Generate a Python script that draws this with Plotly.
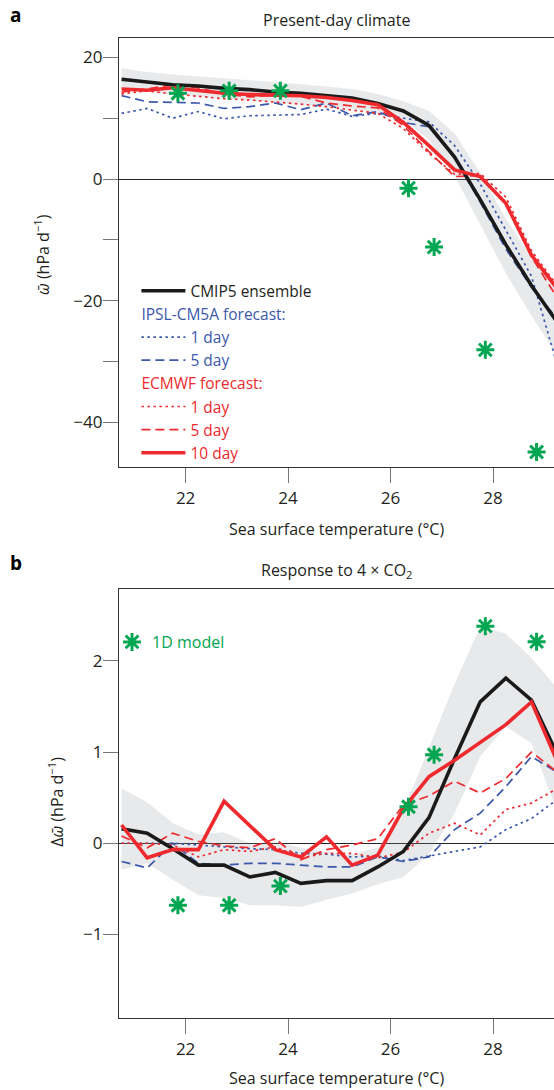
import plotly.graph_objects as go

# ---------------- data ----------------
sst = [20.75, 21.25, 21.75, 22.25, 22.75, 23.25, 23.75, 24.25, 24.75,
       25.25, 25.75, 26.25, 26.75, 27.25, 27.75, 28.25, 28.75, 29.25]

# Panel a: present-day climate (hPa/day)
cmip5_a = [16.4, 15.9, 15.5, 15.3, 14.9, 14.7, 14.3, 14.1, 13.7, 13.3, 12.4, 11.2, 8.8, 3.6, -3.4, -10.8, -17.5, -23.5]
band_hi_a = [18.2, 17.6, 17.2, 16.9, 16.5, 16.2, 15.9, 15.6, 15.2, 14.8, 14.0, 12.8, 11.2, 7.5, 1.0, -6.5, -13.0, -18.5]
band_lo_a = [14.8, 14.3, 13.9, 13.6, 13.2, 12.9, 12.6, 12.3, 12.0, 11.6, 10.8, 9.8, 6.5, 0.5, -7.5, -15.5, -22.5, -29.0]
ipsl1_a = [10.8, 11.6, 10.0, 11.1, 9.9, 10.4, 10.5, 10.6, 11.5, 10.3, 10.8, 10.0, 9.4, 5.5, -0.8, -8.5, -16.0, -30.5]
ipsl5_a = [13.7, 12.7, 12.6, 12.5, 11.6, 11.9, 12.5, 11.4, 12.5, 10.4, 11.1, 9.3, 8.6, 3.5, -3.8, -11.5, -17.8, -23.0]
ec1_a = [14.0, 14.5, 14.0, 13.6, 13.2, 13.0, 12.7, 12.3, 11.9, 11.4, 10.8, 8.3, 4.2, 0.8, 0.9, -3.0, -11.8, -17.5]
ec5_a = [14.3, 14.8, 15.5, 15.0, 14.0, 13.5, 13.8, 13.6, 12.5, 12.0, 11.7, 8.8, 4.5, 0.4, 0.6, -4.0, -12.8, -19.5]
ec10_a = [14.8, 14.6, 15.0, 14.6, 14.1, 13.9, 13.8, 13.7, 13.4, 12.9, 12.2, 9.3, 5.5, 1.5, 0.4, -4.0, -12.5, -18.0]

# Panel b: response to 4xCO2 (hPa/day)
cmip5_b = [0.16, 0.11, -0.06, -0.24, -0.24, -0.37, -0.32, -0.44, -0.41, -0.41, -0.26, -0.09, 0.28, 0.93, 1.55, 1.81, 1.57, 0.98]
band_hi_b = [0.60, 0.45, 0.22, 0.10, 0.12, 0.00, 0.02, -0.05, -0.10, -0.12, -0.05, 0.35, 1.05, 1.75, 2.37, 2.30, 2.03, 1.70]
band_lo_b = [-0.29, -0.22, -0.40, -0.57, -0.60, -0.68, -0.68, -0.70, -0.62, -0.55, -0.45, -0.37, -0.12, 0.33, 0.95, 1.28, 1.10, 0.35]
ipsl1_b = [0.0, 0.0, 0.0, -0.02, -0.04, -0.06, -0.07, -0.11, -0.12, -0.15, -0.14, -0.19, -0.14, -0.09, -0.04, 0.15, 0.27, 0.48]
ipsl5_b = [-0.20, -0.27, 0.0, -0.22, -0.24, -0.22, -0.22, -0.24, -0.26, -0.26, -0.15, -0.20, -0.15, 0.15, 0.33, 0.62, 0.95, 0.78]
ec1_b = [0.0, 0.0, -0.02, -0.15, -0.07, -0.09, -0.04, -0.16, -0.11, -0.11, -0.16, -0.10, 0.11, 0.22, 0.09, 0.37, 0.44, 0.60]
ec5_b = [0.08, -0.05, 0.11, 0.02, -0.03, -0.05, 0.05, -0.18, -0.07, -0.02, 0.05, 0.42, 0.52, 0.68, 0.55, 0.71, 1.00, 0.78]
ec10_b = [0.20, -0.16, -0.07, -0.07, 0.46, 0.19, -0.07, -0.15, 0.07, -0.24, -0.13, 0.38, 0.73, 0.91, 1.11, 1.30, 1.55, 0.90]

# 1D model
star_x = [21.85, 22.85, 23.85, 26.35, 26.85, 27.85, 28.85]
star_a = [14.1, 14.5, 14.5, -1.5, -11.2, -28.1, -44.9]
star_b = [-0.68, -0.68, -0.47, 0.40, 0.97, 2.38, 2.21]

xticks = [22, 24, 26, 28]
yticks_a = [-40, -20, 0, 20]
yticklabels_a = ["\u221240", "\u221220", "0", "20"]
yminor_a = [-30, -10, 10]
yticks_b = [-1, 0, 1, 2]
yticklabels_b = ["\u22121", "0", "1", "2"]

# ---------------- style ----------------
FONT = "Open Sans"
TXT = "#231f20"
BLACK = "#1a1a1a"
RED = "#ee2a2e"
BLUE = "#3b58ab"
GREEN = "#00a651"
BAND = "rgba(150,156,162,0.22)"
DOT = "2.5px,3.5px"
DASH = "9px,5px"
LEGSIZE = 15.5

fig = go.Figure()

def add_panel(xa, ya, band_hi, band_lo, cm, i1, i5, e1, e5, e10, stars, legend_on):
    fig.add_trace(go.Scatter(x=sst, y=band_hi, mode="lines", line=dict(width=0),
                             showlegend=False, hoverinfo="skip", xaxis=xa, yaxis=ya))
    fig.add_trace(go.Scatter(x=sst, y=band_lo, mode="lines", line=dict(width=0),
                             fill="tonexty", fillcolor=BAND,
                             showlegend=False, hoverinfo="skip", xaxis=xa, yaxis=ya))
    spec = [
        (i1, BLUE, 1.7, DOT, "<span style='color:%s'>1 day</span>" % BLUE, "ipsl", 2),
        (i5, BLUE, 1.7, DASH, "<span style='color:%s'>5 day</span>" % BLUE, "ipsl", 3),
        (e1, RED, 1.7, DOT, "<span style='color:%s'>1 day</span>" % RED, "ecmwf", 4),
        (e5, RED, 1.7, DASH, "<span style='color:%s'>5 day</span>" % RED, "ecmwf", 5),
        (cm, BLACK, 3.6, "solid", "CMIP5 ensemble", None, 1),
        (e10, RED, 3.6, "solid", "<span style='color:%s'>10 day</span>" % RED, "ecmwf", 6),
    ]
    for ys, col, w, dash, name, grp, rank in spec:
        kw = {}
        if legend_on and grp == "ipsl":
            kw = dict(legendgroup="ipsl", legendgrouptitle=dict(text="IPSL-CM5A forecast:",
                      font=dict(color=BLUE, size=LEGSIZE, family=FONT)))
        elif legend_on and grp == "ecmwf":
            kw = dict(legendgroup="ecmwf", legendgrouptitle=dict(text="ECMWF forecast:",
                      font=dict(color=RED, size=LEGSIZE, family=FONT)))
        fig.add_trace(go.Scatter(x=sst, y=ys, mode="lines", name=name,
                                 line=dict(color=col, width=w, dash=dash),
                                 showlegend=legend_on, legendrank=rank,
                                 xaxis=xa, yaxis=ya, legend="legend", **kw))
    fig.add_trace(go.Scatter(x=star_x, y=stars, mode="markers",
                             name="<span style='color:%s'>1D model</span>" % GREEN,
                             marker=dict(symbol="asterisk-open", size=15,
                                         line=dict(color=GREEN, width=3), color=GREEN),
                             showlegend=not legend_on, legend="legend2",
                             xaxis=xa, yaxis=ya))

add_panel("x", "y", band_hi_a, band_lo_a, cmip5_a, ipsl1_a, ipsl5_a, ec1_a, ec5_a, ec10_a, star_a, True)
add_panel("x2", "y2", band_hi_b, band_lo_b, cmip5_b, ipsl1_b, ipsl5_b, ec1_b, ec5_b, ec10_b, star_b, False)

axis_common = dict(showgrid=False, showline=True, linecolor="#333333", linewidth=1.3,
                   ticks="outside", ticklen=15, tickwidth=1.2, tickcolor="#777777",
                   tickfont=dict(size=17, color=TXT, family=FONT))

fig.update_layout(
    width=554, height=1090,
    margin=dict(l=119, r=0, t=38, b=72),
    paper_bgcolor="white", plot_bgcolor="white",
    font=dict(family=FONT, color=TXT, size=16),
    xaxis=dict(domain=[0, 1], anchor="y", range=[20.70, 29.19], tickvals=xticks,
               mirror=True, zeroline=False, **axis_common),
    yaxis=dict(domain=[0.5622, 1], anchor="x", range=[-47.37, 23.19],
               tickvals=yticks_a, ticktext=yticklabels_a, ticklabelstandoff=-3,
               minor=dict(tickvals=yminor_a, ticks="outside", ticklen=15, tickwidth=1.2,
                          tickcolor="#777777", showgrid=False),
               zeroline=True, zerolinecolor="#222222", zerolinewidth=1.4, **axis_common),
    xaxis2=dict(domain=[0, 1], anchor="y2", range=[20.70, 29.19], tickvals=xticks,
                mirror=True, zeroline=False, **axis_common),
    yaxis2=dict(domain=[0, 0.4378], anchor="x2", range=[-1.916, 2.788],
                tickvals=yticks_b, ticktext=yticklabels_b, ticklabelstandoff=-3,
                zeroline=True, zerolinecolor="#222222", zerolinewidth=1.4, **axis_common),
    legend=dict(x=0.04, y=0.759, xanchor="left", yanchor="top",
                bgcolor="rgba(0,0,0,0)", font=dict(size=LEGSIZE, family=FONT, color=TXT),
                traceorder="grouped", tracegroupgap=0, itemwidth=44),
    legend2=dict(x=-0.016, y=0.401, xanchor="left", yanchor="top",
                 bgcolor="rgba(0,0,0,0)", font=dict(size=16, family=FONT, color=GREEN)),
    showlegend=True,
)

def note(text, x, y, size=16, angle=0, color=TXT):
    return dict(text=text, x=x, y=y, xref="paper", yref="paper", xanchor="center",
                yanchor="middle", textangle=angle, showarrow=False,
                font=dict(size=size, color=color, family=FONT))

ann = [
    note("<b>a</b>", -0.237, 1.0235, 19, color="black"),
    note("<b>b</b>", -0.237, 0.4643, 19, color="black"),
    note("Present-day climate", 0.5, 1.0184),
    note("Response to 4 \u00d7 CO<sub>2</sub>", 0.5, 0.457),
    note("Sea surface temperature (\u00b0C)", 0.5, 0.499),
    note("Sea surface temperature (\u00b0C)", 0.5, -0.0612),
    note("<i>\u03c9\u0304</i> (hPa d<sup>\u22121</sup>)", -0.177, 0.7786, angle=-90),
    note("\u0394<i>\u03c9\u0304</i> (hPa d<sup>\u22121</sup>)", -0.144, 0.221, angle=-90),
]
fig.update_layout(annotations=ann)

fig.write_html("out.html", config={"displayModeBar": False},
               post_script="document.body.style.margin='0';document.body.style.overflow='hidden';")
